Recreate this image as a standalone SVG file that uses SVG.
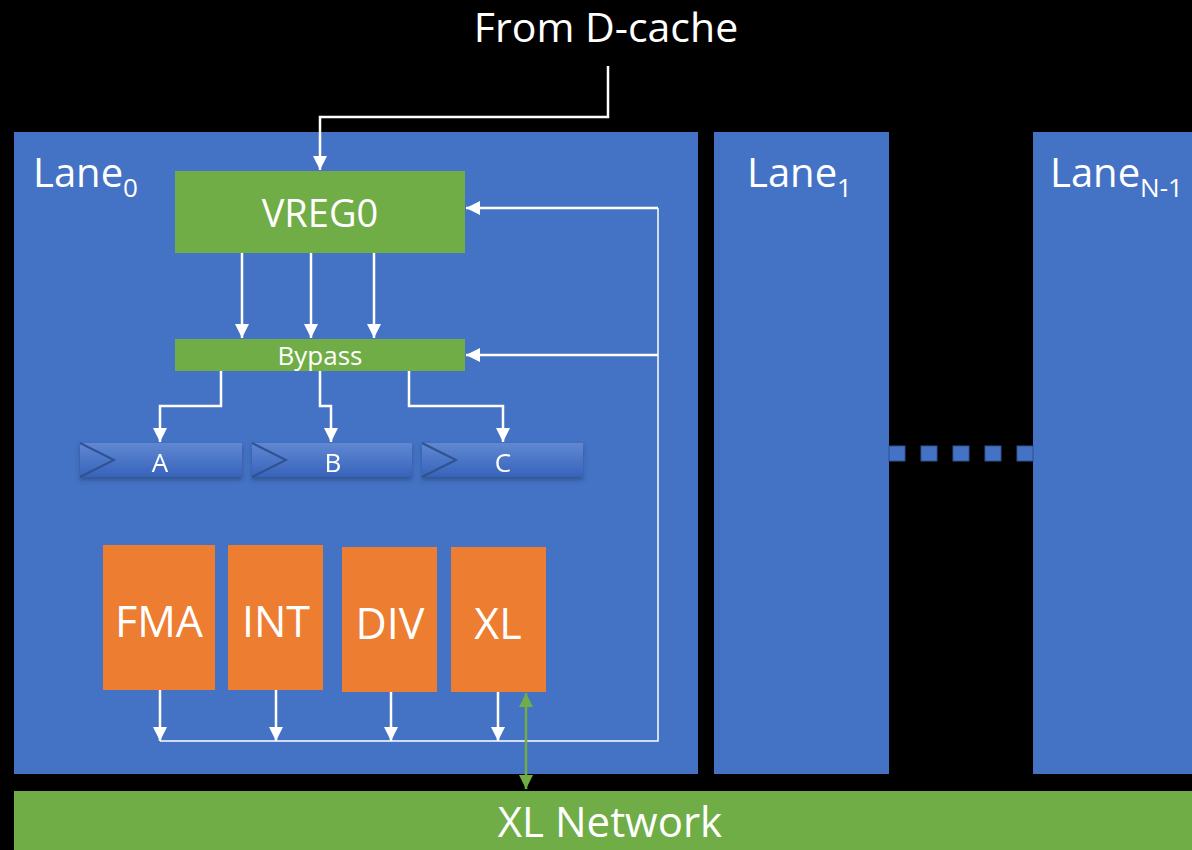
<svg xmlns="http://www.w3.org/2000/svg" width="1192" height="850" viewBox="0 0 1192 850">
<defs>
<style>
.lane{fill:#4472C4}
.green{fill:#70AD47}
.orange{fill:#ED7D31}
.t{font-family:"Open Sans","Liberation Sans",sans-serif;fill:#fff}
.w{stroke:#fff;stroke-width:2.5;fill:none}
.thin{stroke:#fff;stroke-width:1.5;fill:none}
.dot{fill:#4472C4;stroke:#2F528F;stroke-width:1}
</style>
<marker id="ah" viewBox="0 0 10 10" refX="10" refY="5" markerWidth="5.6" markerHeight="5.6" orient="auto" markerUnits="strokeWidth">
<path d="M0,0 L10,5 L0,10 z" fill="#fff"/>
</marker>
<marker id="gh" viewBox="0 0 10 10" refX="10" refY="5" markerWidth="5.6" markerHeight="5.6" orient="auto-start-reverse" markerUnits="strokeWidth">
<path d="M0,0 L10,5 L0,10 z" fill="#70AD47"/>
</marker>
<linearGradient id="reg" x1="0" y1="0" x2="0" y2="1">
<stop offset="0" stop-color="#6088D2"/>
<stop offset="1" stop-color="#3763BB"/>
</linearGradient>
<filter id="sh" x="-10%" y="-30%" width="120%" height="170%">
<feDropShadow dx="0" dy="3" stdDeviation="2" flood-color="#1f3560" flood-opacity="0.5"/>
</filter>
</defs>
<rect width="1192" height="850" fill="#000"/>
<text class="t" x="606" y="42" font-size="41" text-anchor="middle">From D-cache</text>

<g id="lane0">
<rect class="lane" x="14" y="132" width="684" height="642"/>
<text class="t" x="33" y="187" font-size="40">Lane<tspan font-size="26" dy="10">0</tspan></text>
</g>
<g id="lane1">
<rect class="lane" x="714" y="132" width="175" height="642"/>
<text class="t" x="747" y="187" font-size="40">Lane<tspan font-size="26" dy="10">1</tspan></text>
</g>
<g id="laneN1">
<rect class="lane" x="1033" y="132" width="159" height="642"/>
<text class="t" x="1050" y="187" font-size="40">Lane<tspan font-size="26" dy="10">N-1</tspan></text>
</g>
<g id="dots">
<rect class="dot" x="889" y="446" width="16" height="15"/>
<rect class="dot" x="921" y="446" width="16" height="15"/>
<rect class="dot" x="953" y="446" width="16" height="15"/>
<rect class="dot" x="985" y="446" width="16" height="15"/>
<rect class="dot" x="1017" y="446" width="16" height="15"/>
</g>
<g id="xlnet">
<rect class="green" x="14" y="791" width="1178" height="59"/>
<text class="t" x="610" y="837" font-size="42" text-anchor="middle">XL Network</text>
</g>

<g id="vreg0">
<rect class="green" x="175" y="171" width="290" height="82"/>
<text class="t" x="320" y="227" font-size="38" text-anchor="middle">VREG0</text>
</g>
<g id="bypass">
<rect class="green" x="175" y="339" width="290" height="32"/>
<text class="t" x="320" y="365" font-size="26" text-anchor="middle">Bypass</text>
</g>
<g id="regA" filter="url(#sh)">
<rect x="80" y="443" width="162" height="34" fill="url(#reg)"/>
<path d="M80,443 L114,460 L80,477" fill="none" stroke="#2F528F" stroke-width="2"/>
<text class="t" x="160" y="472" font-size="26" text-anchor="middle">A</text>
</g>
<g id="regB" filter="url(#sh)">
<rect x="252" y="443" width="160" height="34" fill="url(#reg)"/>
<path d="M252,443 L286,460 L252,477" fill="none" stroke="#2F528F" stroke-width="2"/>
<text class="t" x="333" y="472" font-size="26" text-anchor="middle">B</text>
</g>
<g id="regC" filter="url(#sh)">
<rect x="422" y="443" width="161" height="34" fill="url(#reg)"/>
<path d="M422,443 L456,460 L422,477" fill="none" stroke="#2F528F" stroke-width="2"/>
<text class="t" x="503" y="472" font-size="26" text-anchor="middle">C</text>
</g>
<g id="fma">
<rect class="orange" x="103" y="545" width="112" height="145"/>
<text class="t" x="159" y="637" font-size="43" text-anchor="middle">FMA</text>
</g>
<g id="int">
<rect class="orange" x="228" y="545" width="95" height="145"/>
<text class="t" x="276" y="637" font-size="43" text-anchor="middle">INT</text>
</g>
<g id="div">
<rect class="orange" x="342" y="547" width="95" height="145"/>
<text class="t" x="390" y="639" font-size="43" text-anchor="middle">DIV</text>
</g>
<g id="xl">
<rect class="orange" x="451" y="547" width="95" height="145"/>
<text class="t" x="498" y="639" font-size="43" text-anchor="middle">XL</text>
</g>

<g id="connectors">
<path class="w" d="M608,66 V117 H320 V170" marker-end="url(#ah)"/>
<path class="w" d="M242,253 V338" marker-end="url(#ah)"/>
<path class="w" d="M311,253 V338" marker-end="url(#ah)"/>
<path class="w" d="M374,253 V338" marker-end="url(#ah)"/>
<path class="w" d="M221,371 V406 H160 V442" marker-end="url(#ah)"/>
<path class="w" d="M320,371 V406 H331 V442" marker-end="url(#ah)"/>
<path class="w" d="M409,371 V406 H503 V442" marker-end="url(#ah)"/>
<path class="w" d="M160,690 V741" marker-end="url(#ah)"/>
<path class="w" d="M276,690 V741" marker-end="url(#ah)"/>
<path class="w" d="M391,692 V741" marker-end="url(#ah)"/>
<path class="w" d="M498,692 V741" marker-end="url(#ah)"/>
<path class="thin" d="M160,741 H658 V208"/>
<path class="w" d="M658,208 H466" marker-end="url(#ah)"/>
<path class="w" d="M658,355 H466" marker-end="url(#ah)"/>
<path d="M526,693 V789" stroke="#70AD47" stroke-width="2.5" fill="none" marker-start="url(#gh)" marker-end="url(#gh)"/>
</g>
</svg>
